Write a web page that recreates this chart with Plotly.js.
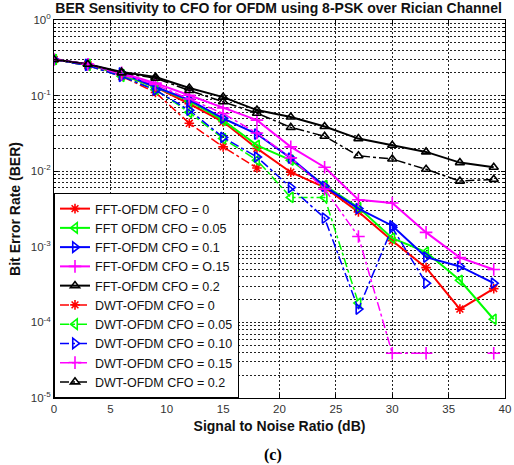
<!DOCTYPE html>
<html>
<head>
<meta charset="utf-8">
<script src="https://cdn.plot.ly/plotly-3.0.1.min.js"></script>
<style>html,body{margin:0;padding:0;background:#fff;}#chart{width:514px;height:465px;}</style>
</head>
<body>
<div id="chart"></div>
<script>
const snr = [0, 3, 6, 9, 12, 15, 18, 21, 24, 27, 30, 33, 36, 39];

const fftCfo0   = [0.30, 0.26, 0.19, 0.13, 0.078, 0.045, 0.020, 0.0097, 0.0061, 0.0029, 0.0012, 0.00053, 0.00015, 0.00028];
const fftCfo005 = [0.30, 0.26, 0.19, 0.13, 0.085, 0.047, 0.022, 0.014, 0.0065, 0.0033, 0.0013, 0.00085, 0.00036, 0.00011];
const fftCfo01  = [0.30, 0.26, 0.20, 0.13, 0.088, 0.050, 0.031, 0.0149, 0.0063, 0.0032, 0.0019, 0.00073, 0.00055, 0.00033];
const fftCfo015 = [0.30, 0.26, 0.20, 0.146, 0.101, 0.0685, 0.0474, 0.021, 0.0113, 0.0042, 0.0038, 0.00155, 0.00072, 0.00050];
const fftCfo02  = [0.30, 0.26, 0.205, 0.176, 0.126, 0.0955, 0.0643, 0.052, 0.039, 0.027, 0.022, 0.018, 0.013, 0.0113];

const dwtCfo0   = [0.30, 0.25, 0.18, 0.11, 0.043, 0.021, 0.011, null, null, null, null, null, null, null];
const dwtCfo005 = [0.30, 0.25, 0.18, 0.12, 0.060, 0.027, 0.014, 0.0045, 0.0045, 0.00018, null, null, null, null];
const dwtCfo010 = [0.30, 0.25, 0.18, 0.118, 0.064, 0.028, 0.0154, 0.0061, 0.0024, 0.00015, 0.0018, 0.00033, null, null];
const dwtCfo015 = [0.30, 0.26, 0.19, 0.14, 0.090, 0.058, 0.032, 0.015, 0.0058, 0.00137, 0.000039, 0.000039, null, 0.000039];
const dwtCfo02  = [0.30, 0.26, 0.20, 0.17, 0.117, 0.083, 0.0585, 0.038, 0.029, 0.016, 0.0145, 0.0106, 0.0074, 0.0078];

const names = [
  "FFT-OFDM CFO = 0", "FFT OFDM CFO = 0.05", "FFT-OFDM CFO = 0.1", "FFT-OFDM CFO = O.15", "FFT-OFDM CFO = 0.2",
  "DWT-OFDM CFO = 0", "DWT-OFDM CFO = 0.05", "DWT-OFDM CFO = 0.10", "DWT-OFDM CFO = 0.15", "DWT-OFDM CFO = 0.2"
];
const series = [fftCfo0, fftCfo005, fftCfo01, fftCfo015, fftCfo02, dwtCfo0, dwtCfo005, dwtCfo010, dwtCfo015, dwtCfo02];
const colors = ["#ff0000", "#00ff00", "#0000ff", "#ff00ff", "#000000"];
const symbols = ["asterisk-open", "triangle-left-open", "triangle-right-open", "cross-thin-open", "triangle-up-open"];
const sizes = [8, 9, 9, 9, 8];

const traces = series.map((ys, i) => {
  const k = i % 5;
  const dwt = i >= 5;
  return {
    x: snr, y: ys, name: names[i], type: "scatter", mode: "lines+markers",
    connectgaps: false,
    line: {color: colors[k], width: dwt ? 1.5 : 2, dash: dwt ? "dashdot" : "solid"},
    marker: {symbol: symbols[k], size: sizes[k], color: colors[k], line: {color: colors[k], width: 1.6}}
  };
});

const yTickVals = [1, 0.1, 0.01, 0.001, 0.0001, 0.00001];
const yTickText = ["10<sup>0</sup>", "10<sup>-1</sup>", "10<sup>-2</sup>", "10<sup>-3</sup>", "10<sup>-4</sup>", "10<sup>-5</sup>"];

const font = "Liberation Sans, Arial, sans-serif";
const gridDash = "2px,2px";

const layout = {
  width: 514, height: 465,
  margin: {l: 54, r: 9, t: 20, b: 67, pad: 0},
  paper_bgcolor: "#fff", plot_bgcolor: "#fff",
  font: {family: font, size: 11, color: "#222"},
  title: {text: "BER Sensitivity to CFO for OFDM using 8-PSK over Rician Channel",
          font: {family: font, size: 14, weight: "bold", color: "#111"},
          xref: "container", x: 0.542, xanchor: "center", yref: "container", y: 0.982, yanchor: "middle"},
  xaxis: {
    range: [0, 40], dtick: 5, tick0: 0, ticks: "inside", ticklen: 4, tickcolor: "#000",
    showline: true, linecolor: "#000", linewidth: 1, mirror: "allticks", zeroline: false,
    showgrid: true, gridcolor: "#222", gridwidth: 1, griddash: gridDash,
    tickfont: {family: font, size: 11.5, color: "#333"},
    title: {text: "Signal to Noise Ratio (dB)", font: {family: font, size: 14, weight: "bold", color: "#111"}, standoff: 7}
  },
  yaxis: {
    type: "log", range: [-5, 0], tickvals: yTickVals, ticktext: yTickText,
    ticks: "inside", ticklen: 4, tickcolor: "#000",
    showline: true, linecolor: "#000", linewidth: 1, mirror: "allticks", zeroline: false,
    showgrid: true, gridcolor: "#222", gridwidth: 1, griddash: gridDash,
    minor: {dtick: "D1", showgrid: true, gridcolor: "#222", gridwidth: 1, griddash: gridDash, ticks: "inside", ticklen: 2, tickcolor: "#000"},
    tickfont: {family: font, size: 11.5, color: "#333"},
    title: {text: "Bit Error Rate (BER)", font: {family: font, size: 14, weight: "bold", color: "#111"}, standoff: 6}
  },
  showlegend: true,
  legend: {x: 0, y: 0, xanchor: "left", yanchor: "bottom", bgcolor: "#fff", bordercolor: "#000", borderwidth: 1,
           font: {family: font, size: 12.5, color: "#111"}, tracegroupgap: 0},
  annotations: [{text: "(c)", xref: "paper", yref: "paper", x: 0.486, y: -0.151, xanchor: "center", yanchor: "middle",
                 showarrow: false, font: {family: "Liberation Serif, Times New Roman, serif", size: 16, weight: "bold", color: "#000"}}]
};

Plotly.newPlot("chart", traces, layout, {displayModeBar: false, staticPlot: true});
</script>
</body>
</html>
